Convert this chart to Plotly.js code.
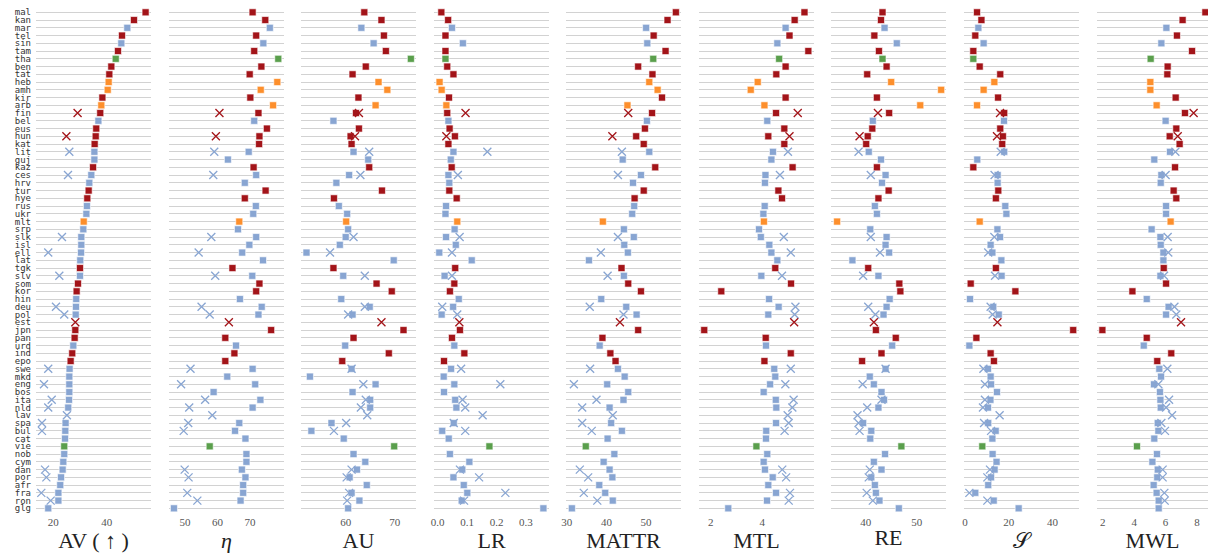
<!DOCTYPE html>
<html>
<head>
<meta charset="utf-8">
<script src="https://cdn.plot.ly/plotly-3.0.1.min.js"></script>
<style>html,body{margin:0;padding:0;background:#fff;}#chart{width:1208px;height:553px;}</style>
</head>
<body>
<div id="chart"></div>
<script>
// ---- categories ----
var langs = ['mal','kan','mar','tel','sin','tam','tha','ben','tat','heb','amh','kir','arb','fin','bel','eus','hun','kat','lit','guj','kaz','ces','hrv','tur','hye','rus','ukr','mlt','srp','slk','isl','ell','lat','tgk','slv','som','kor','hin','deu','pol','est','jpn','pan','urd','ind','epo','swe','mkd','eng','bos','ita','nld','lav','spa','bul','cat','vie','nob','cym','dan','por','afr','fra','ron','glg'];
var groups = ['r','r','b','r','b','r','g','r','r','o','o','r','o','r','b','r','r','r','b','b','r','b','b','r','r','b','b','o','b','b','b','b','b','r','b','r','r','b','b','b','r','r','r','b','r','r','b','b','b','b','b','b','b','b','b','b','g','b','b','b','b','b','b','b','b'];
var xLangs = ['fin','hun','lit','ces','slk','ell','slv','deu','pol','est','swe','eng','ita','nld','lav','spa','bul','dan','por','fra','ron'];

// ---- metric names ----
var metrics = ['AV ( ↑ )','<i>η</i>','AU','LR','MATTR','MTL','RE','𝒮','MWL'];

// ---- square-marker values (one per language, null = none) ----
var AV_sq = [54.6,50.25,47.75,45.75,45.5,44.25,43.4,41.75,41.0,40.75,40.4,38.4,38.0,37.6,36.9,36.1,35.9,35.5,35.4,35.4,34.9,34.25,33.5,33.25,32.75,32.6,32.4,31.4,31.25,30.5,30.5,30.4,30.1,30.0,30.0,29.25,28.75,28.6,28.5,28.4,null,28.25,28.0,27.5,27.1,26.5,26.1,26.0,26.0,26.0,25.9,25.6,null,24.6,24.5,24.4,24.1,24.1,23.75,23.5,22.9,22.6,21.9,21.9,18.1];
var ETA_sq = [70.8,74.7,76.1,71.9,74.1,71.3,78.7,73.5,69.9,78.4,73.3,70.1,77.1,72.6,71.3,75.2,72.9,72.8,69.6,63.2,71.1,71.9,68.4,74.8,68.4,71.8,71.0,66.7,66.3,71.9,69.8,67.6,74.0,64.6,70.7,72.9,71.9,66.9,73.6,72.6,null,76.5,62.4,65.7,65.2,62.4,70.8,63.0,71.6,58.8,73.2,70.8,null,66.7,65.4,68.6,57.6,68.9,68.9,67.5,68.6,67.9,67.9,67.1,46.6];
var AU_sq = [63.8,67.3,63.2,67.8,65.7,68.2,73.3,64.1,61.4,66.7,68.5,62.6,66.1,62.1,57.5,62.7,61.0,61.2,61.6,64.6,64.8,60.7,58.1,67.4,57.6,58.6,60.3,60.1,60.5,60.0,58.8,52.0,69.8,57.5,59.5,66.3,69.4,59.1,64.9,61.4,null,71.8,61.6,59.9,68.8,59.3,61.2,52.7,66.1,61.4,65.0,65.0,null,57.1,53.0,59.6,69.9,61.6,64.0,62.3,60.8,64.3,61.2,62.8,60.5];
var LR_sq = [0.013,0.036,0.049,0.027,0.086,0.027,0.027,0.033,0.054,0.007,0.014,0.039,0.030,0.033,0.037,0.041,0.059,0.037,0.054,0.045,0.048,0.037,0.040,0.040,0.065,0.029,0.027,0.067,0.058,0.029,0.062,0.006,0.116,0.060,0.024,0.057,0.042,0.072,0.053,0.014,null,0.076,0.049,0.057,0.091,0.022,0.046,0.021,0.057,0.022,0.060,0.064,null,0.055,0.016,0.038,0.176,0.042,0.108,0.084,0.054,0.089,0.101,0.082,0.359];
var MATTR_sq = [57.5,55.4,50.0,51.9,50.3,54.9,51.8,48.0,51.6,50.8,52.9,54.0,45.3,51.5,50.2,49.7,47.5,49.4,50.8,44.1,52.3,48.7,46.7,49.4,47.1,47.0,46.5,39.1,44.4,46.9,44.5,45.4,35.6,43.8,44.4,45.5,48.7,38.7,45.0,47.6,null,48.0,39.0,38.3,41.0,42.3,42.9,44.6,40.2,45.5,44.3,40.8,null,41.2,43.9,40.3,34.8,42.0,39.3,40.8,41.5,38.2,39.7,41.6,31.3];
var MTL_sq = [5.63,5.25,4.90,5.05,4.58,5.78,4.65,4.90,4.54,3.82,3.55,4.90,4.08,4.53,4.19,4.85,4.23,4.85,4.41,4.35,5.17,4.12,4.10,4.62,4.76,4.09,4.04,4.06,3.87,3.94,4.27,4.35,4.58,4.50,3.96,5.11,2.41,4.26,4.63,4.23,null,1.75,4.13,4.14,5.10,4.08,4.46,4.50,4.30,4.05,4.52,4.54,null,4.53,4.15,4.14,3.77,4.19,4.05,4.10,4.40,4.23,4.53,4.18,2.68];
var RE_sq = [43.3,43.0,43.7,41.7,46.1,42.6,43.3,44.1,40.3,45.0,54.8,42.2,50.7,44.6,41.4,41.3,40.4,40.1,40.6,43.0,42.2,43.9,43.2,44.5,42.5,41.8,42.2,34.4,40.9,44.1,43.9,44.6,37.4,40.5,42.5,46.6,46.8,44.7,44.1,43.5,null,42.0,45.9,45.2,43.1,39.3,43.9,40.8,41.6,43.1,43.6,42.5,null,39.5,41.1,40.9,47.0,43.8,41.6,43.1,41.1,41.8,42.0,42.7,46.5];
var S_sq = [5.5,7.5,6.1,4.7,8.5,3.8,3.8,6.7,16.1,13.4,8.5,15.1,5.5,17.9,17.8,16.1,17.3,17.0,17.9,5.6,3.8,14.9,14.9,15.2,14.1,18.4,18.9,6.7,14.8,16.0,11.7,12.5,16.6,14.1,16.7,2.6,23.0,2.3,12.9,15.4,null,49.4,5.2,2.0,11.7,13.2,10.5,11.7,11.9,14.6,11.6,10.5,null,10.6,14.0,12.5,7.9,12.6,14.4,13.5,11.9,10.6,4.7,13.1,24.5];
var MWL_sq = [8.53,7.08,6.05,6.72,5.73,7.68,5.05,6.13,6.11,5.03,5.03,6.64,5.43,7.23,6.00,6.68,6.26,6.89,6.28,5.28,6.60,5.73,5.69,6.51,6.68,6.03,6.03,6.32,5.11,5.67,5.69,5.86,5.86,5.88,5.67,6.03,3.89,4.80,6.19,6.03,null,1.98,4.80,4.61,6.36,5.47,5.60,5.71,5.26,5.64,5.67,5.69,null,5.50,5.54,5.28,4.18,5.45,5.16,5.50,5.47,5.24,5.43,5.56,5.56];

// ---- cross-marker values (one per language in xLangs) ----
var AV_x = [29.1,24.9,26.0,25.5,23.25,18.1,22.25,21.0,24.1,28.25,18.1,16.5,19.4,18.1,25.1,15.75,15.75,16.9,17.4,15.5,19.0];
var ETA_x = [60.6,59.5,59.0,58.7,58.1,54.2,59.3,55.1,57.6,63.5,51.7,48.8,56.2,51.3,58.4,51.0,49.6,49.9,51.1,50.7,53.8];
var AU_x = [62.7,61.9,64.8,63.0,61.6,56.8,63.9,63.9,60.5,67.3,61.2,63.6,64.1,63.1,64.4,60.1,57.6,61.2,60.2,60.7,60.3];
var LR_x = [0.095,0.030,0.169,0.069,0.075,0.049,0.049,0.016,0.067,0.074,0.080,0.213,0.085,0.094,0.153,0.055,0.094,0.076,0.141,0.230,0.090];
var MATTR_x = [45.5,41.5,43.9,42.9,42.9,38.6,40.3,35.8,44.3,43.4,35.9,31.8,37.5,33.9,41.6,33.9,36.3,33.3,35.4,34.3,37.7];
var MTL_x = [5.37,5.05,4.99,4.68,4.83,5.10,4.76,5.28,5.25,5.23,5.10,4.89,5.21,5.16,4.98,5.02,4.86,4.77,4.92,5.07,5.02];
var RE_x = [42.4,38.8,38.6,41.0,41.0,42.8,39.5,40.5,41.9,41.6,43.9,39.4,43.1,40.3,38.4,38.6,38.8,40.8,40.6,40.2,41.4];
var S_x = [16.0,14.6,16.3,13.5,13.4,10.6,13.7,11.7,12.6,14.8,8.4,9.1,9.1,8.2,15.8,8.7,11.9,11.4,10.2,2.0,10.2];
var MWL_x = [7.78,6.77,6.62,6.00,6.13,6.17,5.90,6.56,6.68,6.98,6.11,5.54,6.22,6.03,6.41,5.73,5.96,5.81,5.81,5.92,5.94];

// ---- ticks ----
var tickSets = [[20,40],[50,60,70],[60,70],[0,0.1,0.2,0.3],[30,40,50],[2,4],[40,50],[0,20,40],[2,4,6,8]];

// ---- styling ----
var palette = {r:'#a31419', b:'#88a5d2', o:'#fd8f2c', g:'#5a9f4c'};
var sqData = [AV_sq,ETA_sq,AU_sq,LR_sq,MATTR_sq,MTL_sq,RE_sq,S_sq,MWL_sq];
var xData = [AV_x,ETA_x,AU_x,LR_x,MATTR_x,MTL_x,RE_x,S_x,MWL_x];
var ranges = [[13.51,56.63],[45.08,80.46],[50.88,74.35],[-0.0119,0.378],[29.82,58.79],[1.547,5.999],[33.2,55.75],[-0.457,52.05],[1.638,8.695]];
var panelLeft = [36,169,301,434,566,699,831,964,1097];
var W = 1208, panelW = 115;

var rowIdx = langs.map(function(_, i){ return i; });
var xRowIdx = xLangs.map(function(l){ return langs.indexOf(l); });
var sqColors = groups.map(function(g){ return palette[g]; });
var xColors = xRowIdx.map(function(i){ return palette[groups[i]]; });

var traces = [];
var layout = {
  width: 1208, height: 553,
  margin: {l:0, r:0, t:0, b:39},
  paper_bgcolor: '#fff', plot_bgcolor: '#fff',
  showlegend: false,
  yaxis: {
    range: [64.73, -1.587], autorange: false,
    tickmode: 'array', tickvals: rowIdx, ticktext: langs,
    showgrid: true, gridcolor: '#d2d2d2', gridwidth: 1,
    zeroline: false, showline: false, ticks: '',
    tickfont: {family: 'DejaVu Sans Mono', size: 9, color: '#333'},
    ticklabelstandoff: 4,
    domain: [0, 1]
  }
};

for (var k = 0; k < 9; k++) {
  var ax = k === 0 ? 'x' : 'x' + (k + 1);
  var axName = k === 0 ? 'xaxis' : 'xaxis' + (k + 1);
  var d0 = panelLeft[k] / W;
  var d1 = Math.min(1, (panelLeft[k] + panelW) / W);
  layout[axName] = {
    domain: [d0, d1],
    range: ranges[k], autorange: false,
    anchor: 'y',
    tickmode: 'array', tickvals: tickSets[k],
    tickformat: k === 3 ? '.1f' : '',
    showgrid: false, zeroline: false, showline: false, ticks: '',
    tickfont: {family: 'Liberation Serif', size: 11, color: '#555'},
    title: {text: metrics[k], font: {family: 'Liberation Serif', size: 22, color: '#222'}, standoff: 2}
  };
  traces.push({
    type: 'scatter', mode: 'markers', xaxis: ax, yaxis: 'y',
    x: sqData[k], y: rowIdx, cliponaxis: false,
    marker: {symbol: 'square', size: 7, color: sqColors, line: {color: 'rgba(255,255,255,0.75)', width: 0.8}},
    hoverinfo: 'x+text', text: langs
  });
  traces.push({
    type: 'scatter', mode: 'markers', xaxis: ax, yaxis: 'y',
    x: xData[k], y: xRowIdx, cliponaxis: false,
    marker: {symbol: 'x-thin-open', size: 8, color: xColors, line: {color: xColors, width: 1.3}},
    hoverinfo: 'x+text', text: xLangs
  });
}

Plotly.newPlot('chart', traces, layout, {displayModeBar: false, staticPlot: true});
</script>
</body>
</html>
